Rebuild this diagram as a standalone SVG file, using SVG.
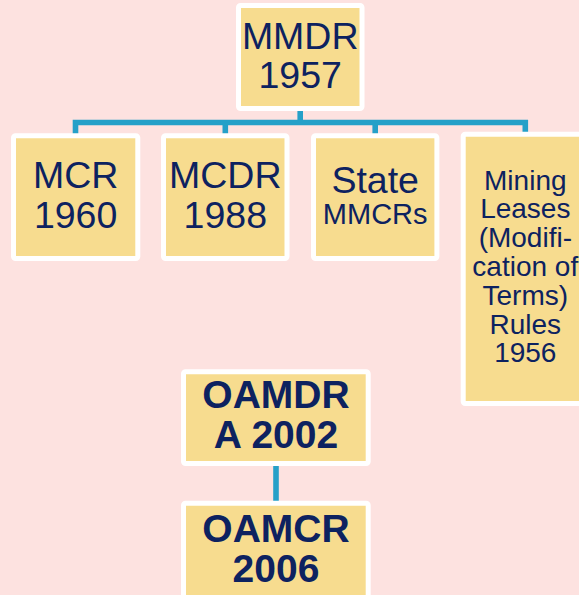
<svg xmlns="http://www.w3.org/2000/svg" width="579" height="595" viewBox="0 0 579 595">
  <defs>
    <style>
      .box { fill: #F7DC8F; stroke: #FFFFFF; stroke-width: 5; }
      .t { font-family: "Liberation Sans", Arial, sans-serif; fill: #0D2260; text-anchor: middle; }
      .big { font-size: 37.5px; }
      .bold { font-size: 39px; font-weight: bold; }
      .small { font-size: 28px; }
      .conn { fill: none; stroke: #25A0C8; stroke-width: 5.6; stroke-linejoin: miter; }
    </style>
  </defs>
  <rect x="0" y="0" width="579" height="595" fill="#FDE2E0"/>

  <g id="connectors">
    <path class="conn" d="M300.2 111 V122.5"/>
    <path class="conn" d="M75.5 134 V122.5 H525.3 V134"/>
    <path class="conn" d="M225.3 122.5 V134"/>
    <path class="conn" d="M375.2 122.5 V134"/>
    <path class="conn" d="M276 466 V501"/>
  </g>

  <g id="mmdr">
    <rect class="box" x="238.5" y="5.5" width="123.5" height="103" rx="2"/>
    <text class="t big" x="300.2" y="49.3">MMDR</text>
    <text class="t big" x="300.2" y="88.3">1957</text>
  </g>

  <g id="mcr">
    <rect class="box" x="13.5" y="135.8" width="124.3" height="122.7" rx="2"/>
    <text class="t big" x="75.6" y="188.3">MCR</text>
    <text class="t big" x="75.6" y="227.7">1960</text>
  </g>

  <g id="mcdr">
    <rect class="box" x="163.5" y="135.8" width="123.5" height="122.7" rx="2"/>
    <text class="t big" x="225.3" y="188.3">MCDR</text>
    <text class="t big" x="225.3" y="227.7">1988</text>
  </g>

  <g id="state">
    <rect class="box" x="313.5" y="135.8" width="123.4" height="122.7" rx="2"/>
    <text class="t big" x="375.2" y="193">State</text>
    <text class="t" style="font-size:29px" x="375.2" y="224">MMCRs</text>
  </g>

  <g id="mining">
    <rect class="box" x="463.2" y="134.2" width="124" height="269.3" rx="2"/>
    <text class="t small" x="525.3" y="189.5">Mining</text>
    <text class="t small" x="525.3" y="218.3">Leases</text>
    <text class="t small" x="525.3" y="247.1">(Modifi-</text>
    <text class="t small" x="525.3" y="275.9">cation of</text>
    <text class="t small" x="525.3" y="304.7">Terms)</text>
    <text class="t small" x="525.3" y="333.5">Rules</text>
    <text class="t small" x="525.3" y="362.3">1956</text>
  </g>

  <g id="oamdra">
    <rect class="box" x="183.5" y="371.8" width="184.7" height="91.7" rx="2"/>
    <text class="t bold" x="276" y="408">OAMDR</text>
    <text class="t bold" x="276" y="448">A 2002</text>
  </g>

  <g id="oamcr">
    <rect class="box" x="183.5" y="503.2" width="184.7" height="100" rx="2"/>
    <text class="t bold" x="276" y="541.7">OAMCR</text>
    <text class="t bold" x="276" y="581.7">2006</text>
  </g>
</svg>
